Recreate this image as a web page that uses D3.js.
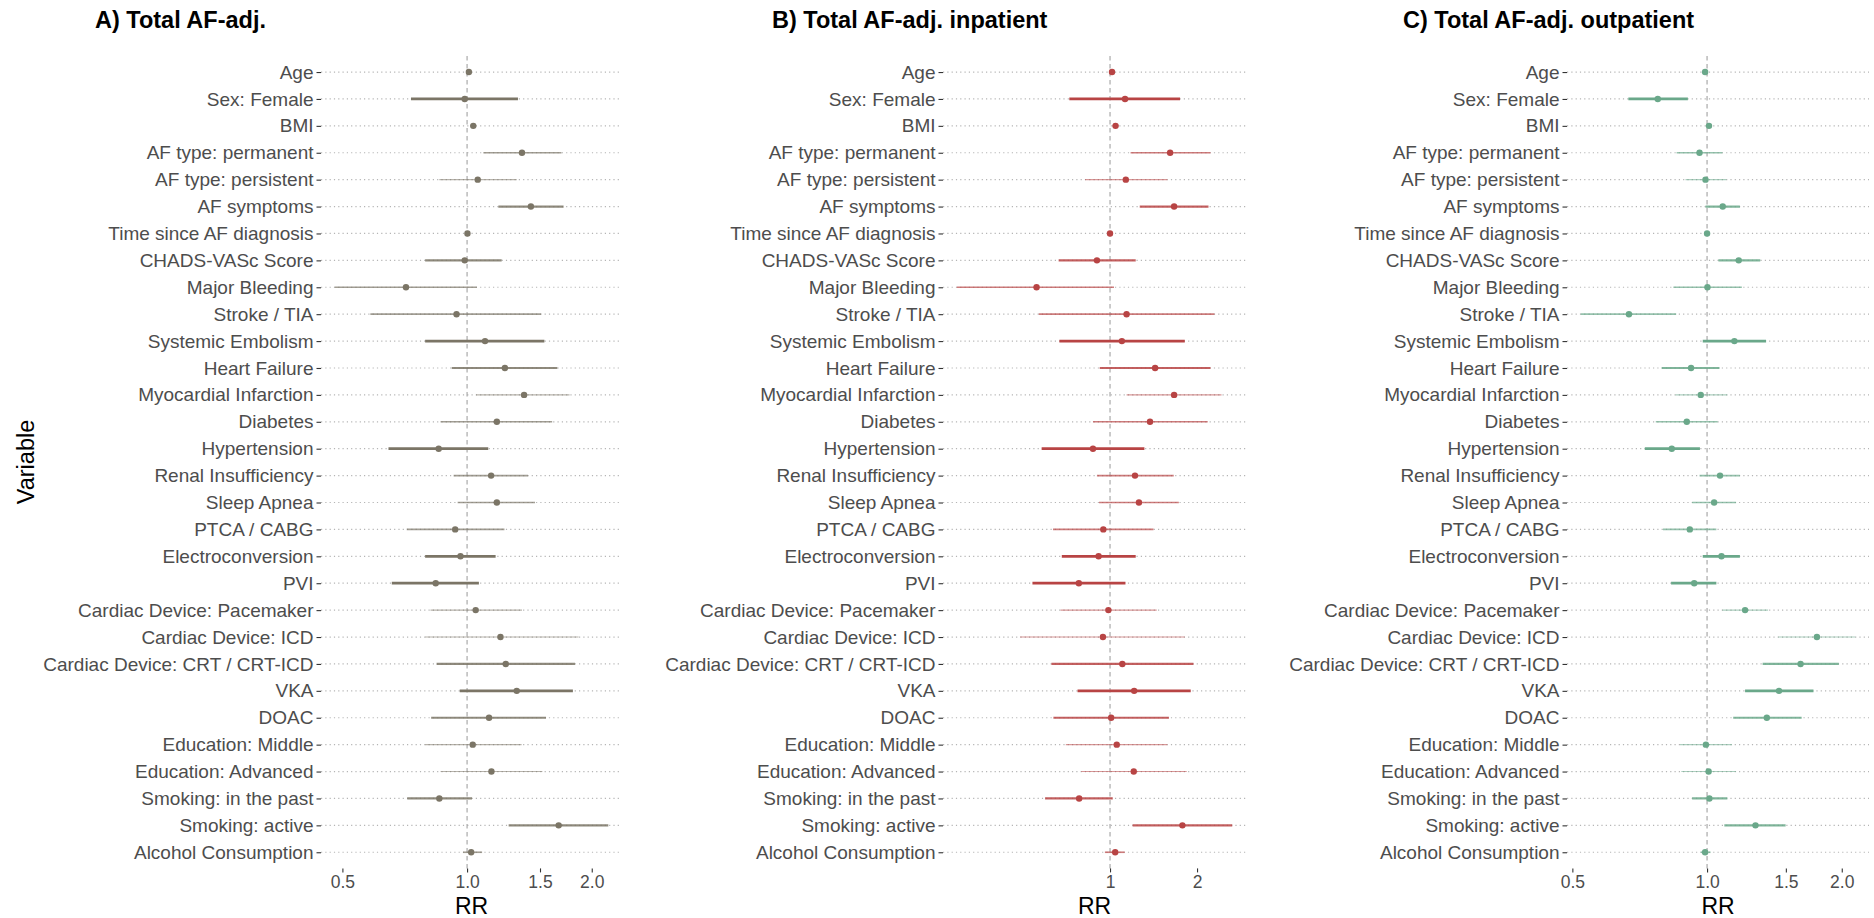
<!DOCTYPE html>
<html>
<head>
<meta charset="utf-8">
<script src="https://cdn.jsdelivr.net/npm/d3@7"></script>
<style>
  html, body { margin: 0; padding: 0; background: #ffffff; }
  svg { display: block; font-family: "Liberation Sans", Arial, sans-serif; }
</style>
</head>
<body>
<svg id="chart" width="1874" height="918"></svg>
<script>
// Variables in the model, top to bottom
const variables = [
  "Age", "Sex: Female", "BMI", "AF type: permanent", "AF type: persistent",
  "AF symptoms", "Time since AF diagnosis", "CHADS-VASc Score", "Major Bleeding",
  "Stroke / TIA", "Systemic Embolism", "Heart Failure", "Myocardial Infarction",
  "Diabetes", "Hypertension", "Renal Insufficiency", "Sleep Apnea", "PTCA / CABG",
  "Electroconversion", "PVI", "Cardiac Device: Pacemaker", "Cardiac Device: ICD",
  "Cardiac Device: CRT / CRT-ICD", "VKA", "DOAC", "Education: Middle",
  "Education: Advanced", "Smoking: in the past", "Smoking: active", "Alcohol Consumption"
];

// Relative weight of each variable (1 = low … 4 = high)
const weight = [2, 4, 2, 2, 1, 3, 2, 3, 2, 2, 4, 3, 1, 2, 4, 2, 2, 2, 4, 4, 1, 1, 3, 4, 3, 1, 1, 3, 3, 2];

// A) Total AF-adjusted: rate ratio with 95% CI
const totalRR = [1.010, 0.987, 1.035, 1.357, 1.061, 1.426, 1.002, 0.987, 0.712, 0.943,
                 1.105, 1.234, 1.373, 1.180, 0.854, 1.143, 1.180, 0.936, 0.964, 0.840,
                 1.049, 1.204, 1.240, 1.318, 1.130, 1.032, 1.145, 0.857, 1.664, 1.023];
const totalLo = [1.003, 0.732, 1.020, 1.095, 0.857, 1.190, 0.995, 0.792, 0.479, 0.584,
                 0.792, 0.918, 1.051, 0.863, 0.646, 0.928, 0.949, 0.715, 0.792, 0.658,
                 0.816, 0.792, 0.844, 0.960, 0.819, 0.792, 0.863, 0.717, 1.260, 0.978];
const totalHi = [1.017, 1.327, 1.050, 1.690, 1.318, 1.710, 1.010, 1.212, 1.056, 1.509,
                 1.537, 1.652, 1.768, 1.605, 1.125, 1.404, 1.459, 1.231, 1.172, 1.068,
                 1.357, 1.859, 1.822, 1.801, 1.551, 1.354, 1.520, 1.028, 2.193, 1.087];

// B) Total AF-adjusted, inpatient
const inpatRR = [1.016, 1.127, 1.045, 1.614, 1.134, 1.666, 1.000, 0.901, 0.557, 1.141,
                 1.099, 1.432, 1.666, 1.375, 0.873, 1.220, 1.259, 0.948, 0.913, 0.780,
                 0.987, 0.945, 1.103, 1.212, 1.009, 1.055, 1.208, 0.782, 1.780, 1.042];
const inpatLo = [1.005, 0.723, 1.020, 1.178, 0.820, 1.267, 0.990, 0.664, 0.295, 0.567,
                 0.668, 0.921, 1.141, 0.873, 0.580, 0.901, 0.916, 0.635, 0.681, 0.539,
                 0.674, 0.488, 0.627, 0.772, 0.637, 0.703, 0.795, 0.596, 1.197, 0.960];
const inpatHi = [1.030, 1.747, 1.070, 2.226, 1.579, 2.191, 1.010, 1.227, 1.032, 2.297,
                 1.814, 2.226, 2.431, 2.177, 1.315, 1.661, 1.730, 1.414, 1.227, 1.131,
                 1.450, 1.814, 1.944, 1.902, 1.599, 1.579, 1.842, 1.022, 2.647, 1.124];

// C) Total AF-adjusted, outpatient
const outpatRR = [0.990, 0.776, 1.010, 0.962, 0.992, 1.084, 1.000, 1.177, 1.002, 0.669,
                  1.151, 0.921, 0.968, 0.901, 0.834, 1.069, 1.037, 0.915, 1.077, 0.936,
                  1.216, 1.760, 1.618, 1.448, 1.360, 0.994, 1.008, 1.012, 1.283, 0.990];
const outpatLo = [0.983, 0.667, 1.002, 0.855, 0.895, 0.992, 0.994, 1.060, 0.841, 0.522,
                  0.978, 0.792, 0.850, 0.768, 0.726, 0.962, 0.926, 0.797, 0.978, 0.831,
                  1.082, 1.442, 1.331, 1.216, 1.144, 0.870, 0.876, 0.926, 1.093, 0.968];
const outpatHi = [0.998, 0.906, 1.018, 1.082, 1.104, 1.184, 1.006, 1.315, 1.196, 0.853,
                  1.355, 1.066, 1.110, 1.056, 0.964, 1.184, 1.161, 1.049, 1.184, 1.049,
                  1.369, 2.144, 1.970, 1.729, 1.627, 1.137, 1.161, 1.110, 1.498, 1.018];

// Axis ticks and titles
const ticksTotal = [0.5, 1.0, 1.5, 2.0];
const ticksInpat = [1, 2];
const ticksOutpat = [0.5, 1.0, 1.5, 2.0];
const titles = ["A) Total AF-adj.", "B) Total AF-adj. inpatient", "C) Total AF-adj. outpatient"];
const xTitle = "RR";
const yTitle = "Variable";

const panels = [
  { title: titles[0], rr: totalRR, lo: totalLo, hi: totalHi, ticks: ticksTotal, fmt: d3.format(".1f"),
    color: "#7b7566", left: 321, right: 622, titleX: 95 },
  { title: titles[1], rr: inpatRR, lo: inpatLo, hi: inpatHi, ticks: ticksInpat, fmt: d3.format("d"),
    color: "#b84444", left: 943, right: 1246, titleX: 772 },
  { title: titles[2], rr: outpatRR, lo: outpatLo, hi: outpatHi, ticks: ticksOutpat, fmt: d3.format(".1f"),
    color: "#6aa88a", left: 1567, right: 1869, titleX: 1403 }
];

const svg = d3.select("#chart");
const panelTop = 55.9, panelBottom = 868.4;

const y = d3.scalePoint().domain(variables).range([panelTop, panelBottom]).padding(0.6);
const widthScale = d3.scaleLinear().domain([1, 4]).range([1.1, 2.7]);
const alphaScale = d3.scaleLinear().domain([1, 4]).range([0.55, 1]);

panels.forEach(p => {
  // log x-scale over the data extent with 5% padding on each side
  const lmin = Math.log(d3.min(p.lo)), lmax = Math.log(d3.max(p.hi));
  const pad = (lmax - lmin) * 0.05;
  const x = d3.scaleLog()
    .domain([Math.exp(lmin - pad), Math.exp(lmax + pad)])
    .range([p.left, p.right]);

  const g = svg.append("g");

  // dotted horizontal grid
  g.append("g").selectAll("line").data(variables).join("line")
    .attr("x1", p.left).attr("x2", p.right)
    .attr("y1", d => y(d)).attr("y2", d => y(d))
    .attr("stroke", "#b5b5b5").attr("stroke-width", 1.2)
    .attr("stroke-dasharray", "1.2,3.1");

  // reference line at RR = 1
  g.append("line")
    .attr("x1", x(1)).attr("x2", x(1))
    .attr("y1", panelTop).attr("y2", panelBottom)
    .attr("stroke", "#aaaaaa").attr("stroke-width", 1.2)
    .attr("stroke-dasharray", "4.5,3.5");

  const rows = variables.map((v, i) => ({ v, rr: p.rr[i], lo: p.lo[i], hi: p.hi[i], w: weight[i] }));

  // confidence intervals
  g.append("g").selectAll("line").data(rows).join("line")
    .attr("x1", d => x(d.lo)).attr("x2", d => x(d.hi))
    .attr("y1", d => y(d.v)).attr("y2", d => y(d.v))
    .attr("stroke", p.color)
    .attr("stroke-width", d => widthScale(d.w))
    .attr("stroke-opacity", d => alphaScale(d.w));

  // point estimates
  g.append("g").selectAll("circle").data(rows).join("circle")
    .attr("cx", d => x(d.rr)).attr("cy", d => y(d.v))
    .attr("r", 3.2)
    .attr("fill", p.color);

  // y axis
  const ya = g.append("g")
    .attr("transform", `translate(${p.left},0)`)
    .call(d3.axisLeft(y).tickSize(4.5).tickPadding(3));
  ya.select(".domain").remove();
  ya.selectAll(".tick line").attr("stroke", "#333333").attr("stroke-width", 1.1);
  ya.selectAll(".tick text")
    .attr("fill", "#4d4d4d")
    .style("font-size", "19px")
    .style("font-family", "'Liberation Sans', Arial, sans-serif");

  // x axis
  const xa = g.append("g")
    .attr("transform", `translate(0,${panelBottom})`)
    .call(d3.axisBottom(x).tickValues(p.ticks).tickFormat(p.fmt).tickSize(4).tickPadding(3));
  xa.select(".domain").remove();
  xa.selectAll(".tick line").attr("stroke", "#333333").attr("stroke-width", 1.1);
  xa.selectAll(".tick text")
    .attr("fill", "#4d4d4d")
    .style("font-size", "17.5px")
    .style("font-family", "'Liberation Sans', Arial, sans-serif");

  // x axis title
  g.append("text")
    .attr("x", (p.left + p.right) / 2).attr("y", 914)
    .attr("text-anchor", "middle")
    .style("font-size", "23px")
    .attr("fill", "#000000")
    .text(xTitle);

  // panel title
  g.append("text")
    .attr("x", p.titleX).attr("y", 28)
    .style("font-size", "23.5px").style("font-weight", "bold")
    .attr("fill", "#000000")
    .text(p.title);
});

// y axis title
svg.append("text")
  .attr("transform", "translate(34,462) rotate(-90)")
  .attr("text-anchor", "middle")
  .style("font-size", "23.5px")
  .attr("fill", "#000000")
  .text(yTitle);
</script>
</body>
</html>
